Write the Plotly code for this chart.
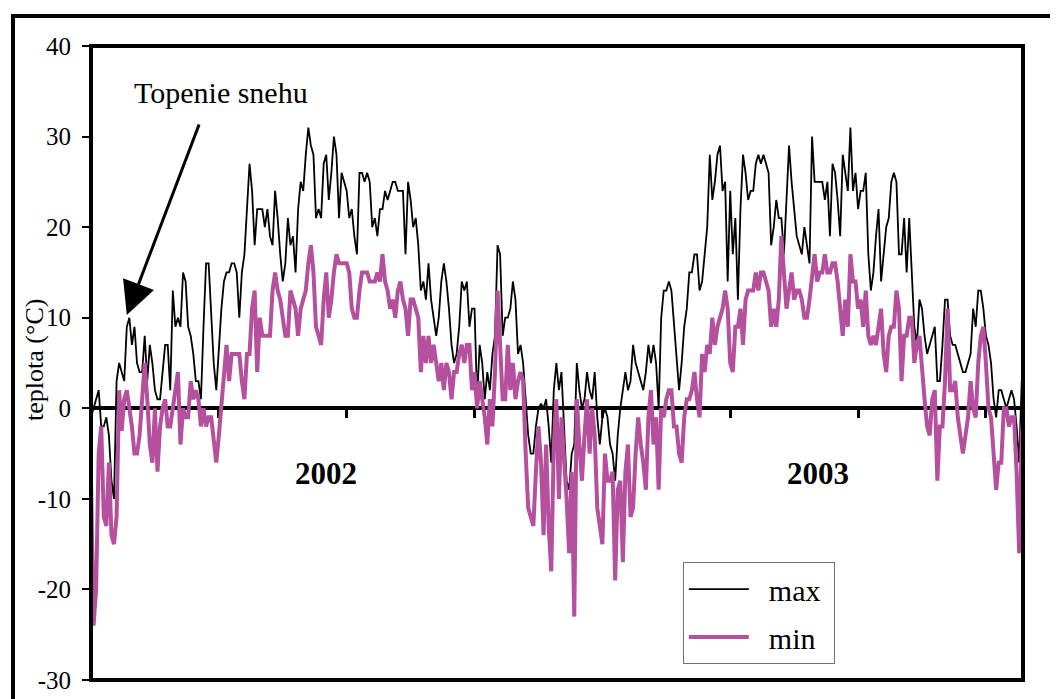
import plotly.graph_objects as go

# day index (every 2nd day, 2002-2003)
days = list(range(0, 731, 2))

t_max = [
    -1, 0, 1, 2, -2, -2, -1, -3, -8, -10,
    3, 5, 4, 3, 9, 10, 7, 9, 5, 4,
    4, 8, 3, 7, 5, 2, 1, 1, 4, 7,
    7, 2, 13, 9, 10, 9, 15, 14, 9, 8,
    6, 3, 3, 1, 9, 16, 16, 11, 5, 2,
    7, 11, 14, 15, 15, 16, 16, 15, 10, 15,
    17, 22, 27, 24, 18, 22, 22, 22, 20, 22,
    19, 18, 24, 21,
    17, 14, 16, 21, 18, 19, 15, 22, 25, 24,
    28, 31, 29, 28, 21, 22, 21, 27, 28, 23,
    26, 30, 28, 21, 26, 25, 24, 21, 22, 19,
    17, 26, 26, 25, 26, 25, 20, 21, 19, 22,
    22, 24, 23, 24, 25, 25, 24, 24, 24, 17,
    25, 23, 20, 21, 18, 13, 14, 12, 16, 12,
    10, 8, 10, 14, 16, 14, 11, 7, 5, 6,
    9, 14, 13,
    14, 9, 11, 11, 1, 7, 5, 1, 4, 2,
    6, 8, 18, 17, 8, 10, 10, 11, 14, 12,
    6, 7, 5, 1, -3, -5, -5, -2, 0, 0.5,
    0, 1, -2, -6, 2, 5, 2, 4, -3, -8,
    -9, -5, -4, 5, 2, 0, 1, 4, 2, 1,
    4, -1, -4, -1, 0, -1, -4, -5, -8, -3,
    0, 2, 4, 2, 3, 7, 5, 4, 3, 2,
    4, 7, 5,
    7, 5, 0, 10, 13, 13, 14, 13, 9, 5,
    2, 5, 9, 11, 15, 15, 17, 17, 13, 14,
    17, 20, 28, 23, 25, 28, 29, 24, 25, 14,
    24, 17, 21, 12, 22, 28, 26, 23, 24, 24,
    27, 28, 27, 28, 27, 26, 18, 20, 23, 21,
    21, 17, 23, 29, 25, 22, 19, 18, 17, 20,
    18, 16, 30, 25, 25, 25, 25, 23, 25, 19,
    27, 26, 23,
    19, 28, 26, 24, 31, 24, 26, 22, 24, 24,
    26, 17, 13, 15, 19, 22, 14, 17, 20, 21,
    25, 26, 25, 17, 17, 21, 15, 21, 14, 9,
    7, 12, 11, 8, 6, 7, 8, 9, 3, 3,
    7, 12, 12, 8, 7, 7, 6, 5, 4, 4,
    5, 6, 11, 9, 13, 13, 11, 8, 7, 5,
    1, -1, 2, 2, 1, 0, 1, 2, 1, -2,
    -6, 3, 4,
]

t_min = [
    -8, -24, -20, -5, -2, -12, -13, -6, -14, -15,
    -12, 2, -2.5, 1, 2, 0, -2, -5, -5, -3,
    1, 5, 1, -4, -6, 0, -7, -2, 0, 1,
    -2, -2, 0, 2, 4, -4, 0, -1, -1, 3,
    1, 2, 1, -2, 0, -2, -1, -1, -4, -6,
    -3, 0, 4, 7, 3, 6, 6, 6, 6, 3,
    1, 6, 6, 11, 13, 4, 10, 8, 8, 8,
    8, 13, 15, 13,
    12, 10, 8, 8, 13, 12, 11, 8, 11, 12,
    13, 16, 18, 15, 9, 8, 7, 12, 15, 10,
    12, 15, 17, 16, 16, 16, 16, 15, 11, 10,
    10, 13, 15, 15, 15, 14, 14, 14, 15, 14,
    17, 14, 13, 11, 12, 10, 13, 14, 12, 11,
    8, 12, 12, 11, 10, 4, 8, 5, 8, 5,
    7, 5, 3, 5, 2, 5, 4, 1, 4, 4,
    6, 7, 5,
    7, 7, 2, 4, 0, 3, 1, -1, -4, 1,
    -2, 4, 13, 7, 1, 1, 7, 2, 5, 1,
    3, 4, 3, -5, -11, -12, -13, -7, -2, -6,
    -14, -4, -13, -18, -4, 1, -10, -1, -5, -10,
    -16, -7, -23, 1, -4, -8, -3, 1, -5, 0,
    -3, -11, -13, -15, -5, -8, -8, -7, -19, -9,
    -8, -17, -7, -4, -12, -11, -5, -1, -4, -6,
    -9, -1, 2,
    -4, -1, -9, 0, -1, 1, 2, 2, -2, -2,
    -5, -6, -1, 1, 1, 2, 4, 1, -1, 6,
    4, 7, 6, 10, 7, 9, 10, 11, 13, 11,
    5, 4, 9, 9, 11, 7, 12, 13, 13, 13,
    15, 13, 15, 15, 14, 13, 9, 11, 9, 12,
    19, 15, 11, 13, 15, 12, 13, 13, 12, 10,
    10, 12, 15, 17, 14, 15, 15, 17, 15, 15,
    16, 16, 14,
    11, 8, 12, 9, 17, 14, 14, 11, 12, 9,
    13, 8, 7, 8, 7, 9, 11, 6, 4, 8,
    9, 9, 13, 11, 3, 8, 8, 10, 10, 5,
    7, 8, 4, 1, -2, -3, 1, 2, -8, -2,
    -2, 3, 11, 2, 2, 3, -1, -3, -5, -3,
    -1, 3, 0, -1, 5, 8, 9, 5, 0, -1,
    -5, -9, -6, -6, 0, 0, -2, -1, -1, -7,
    -16, -3, 0,
]

y_ticks = [-30, -20, -10, 0, 10, 20, 30, 40]
y_tick_text = ["-30", "-20", "-10", "0", "10", "20", "30", "40"]
x_ticks = [100, 200, 300, 400, 500, 600, 700]
year_labels = ["2002", "2003"]
year_pos = [184, 569]
series_names = ["max", "min"]

SERIF = "Liberation Serif"
NB = "\u00a0"

fig = go.Figure()
fig.add_trace(go.Scatter(
    x=days, y=t_max, mode="lines", name=NB * 2 + series_names[0] + NB,
    line=dict(color="black", width=1.8), legendgroup="a",
))
fig.add_trace(go.Scatter(
    x=days, y=t_min, mode="lines", name=NB * 2 + series_names[1] + NB,
    line=dict(color="#B5509F", width=4), legendgroup="b",
))

annotations = [
    dict(x=102, y=34.9, xref="x", yref="y", text="Topenie snehu", showarrow=False,
         font=dict(family=SERIF, size=30, color="black")),
    dict(x=28, y=10.3, xref="x", yref="y", ax=85, ay=31.5, axref="x", ayref="y",
         text="", showarrow=True, arrowhead=2, arrowsize=2.2, arrowwidth=3,
         arrowcolor="black"),
    dict(xref="paper", yref="paper", x=-0.060, y=0.505, text="teplota (°C)",
         textangle=-90, showarrow=False, xanchor="center", yanchor="middle",
         font=dict(family=SERIF, size=26, color="black")),
]
for lab, pos in zip(year_labels, year_pos):
    annotations.append(dict(x=pos, y=-7.2, xref="x", yref="y", text="<b>" + lab + "</b>",
                            showarrow=False, font=dict(family=SERIF, size=31, color="black")))

fig.update_layout(
    width=1058, height=699,
    margin=dict(l=83, r=43, t=38, b=27),
    paper_bgcolor="white", plot_bgcolor="white",
    font=dict(family=SERIF, color="black"),
    showlegend=True,
    legend=dict(x=0.635, y=0.186, xanchor="left", yanchor="top",
                bgcolor="white", bordercolor="#707070", borderwidth=1,
                font=dict(family=SERIF, size=30, color="black"),
                itemwidth=60, tracegroupgap=6, traceorder="grouped"),
    xaxis=dict(range=[0, 729], anchor="free", position=3 / 7, showline=True,
               linewidth=4, linecolor="black", ticks="outside", tickvals=x_ticks,
               ticklen=8, tickwidth=3, tickcolor="black", showticklabels=False,
               showgrid=False, zeroline=False, layer="below traces"),
    yaxis=dict(range=[-30, 40], tickvals=y_ticks, ticktext=y_tick_text,
               ticks="outside", ticklen=8, tickwidth=2, tickcolor="black",
               showline=False, showgrid=False, zeroline=False,
               tickfont=dict(family=SERIF, size=25, color="black"),
               ticklabelstandoff=6),
    annotations=annotations,
    shapes=[
        dict(type="rect", xref="paper", yref="paper", x0=0, x1=1, y0=0, y1=1,
             line=dict(color="black", width=4), layer="above"),
        dict(type="rect", xref="paper", yref="paper", x0=-0.0837, x1=1.2, y0=-0.3,
             y1=1.0473, line=dict(color="black", width=4), layer="above"),
    ],
)

fig.write_html("out.html")
